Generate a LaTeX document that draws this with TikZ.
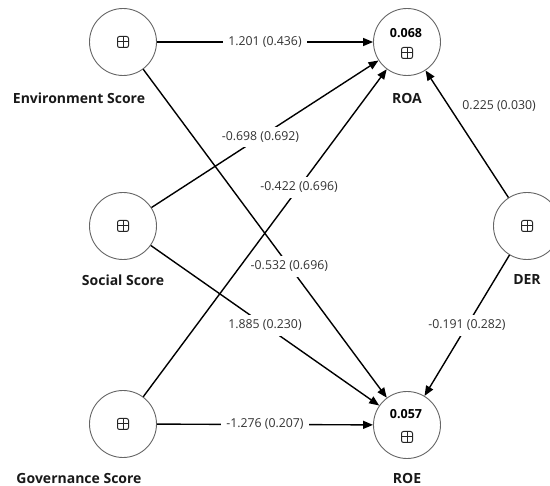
\documentclass[tikz,border=0pt]{standalone}
\usepackage{fontspec}
\setmainfont{Open Sans}
\usetikzlibrary{arrows.meta}
\begin{document}
\begin{tikzpicture}[x=1pt,y=-1pt,
  latent/.style={circle,draw=black!60,line width=0.9pt,minimum size=67pt,inner sep=0pt},
  conn/.style={line width=1.4pt,-{Triangle[length=10pt,width=8pt]}},
  elabel/.style={fill=white,font=\fontsize{12.3}{14}\selectfont,text=black!80,inner sep=5pt},
  vlabel/.style={font=\fontsize{14}{16}\selectfont\bfseries,text=black!90},
  rsq/.style={font=\fontsize{12.5}{14}\selectfont\bfseries},
  plusbox/.pic={\draw[line width=1pt,rounded corners=2pt,black!85] (-5.5,-5.5) rectangle (5.5,5.5);
                \draw[line width=1pt,black!85] (-5.5,0) -- (5.5,0) (0,-5.5) -- (0,5.5);}
]
\useasboundingbox (0,0) rectangle (550,486);
% constructs
\node[latent] (env) at (123,42) {};
\node[latent] (soc) at (123,226) {};
\node[latent] (gov) at (123,424) {};
\node[latent] (roa) at (407,42) {};
\node[latent] (roe) at (407,425) {};
\node[latent] (der) at (527,226) {};
% icons
\pic at (env.center) {plusbox};
\pic at (soc.center) {plusbox};
\pic at (gov.center) {plusbox};
\pic at (der.center) {plusbox};
\pic at (407,53) {plusbox};
\pic at (407,437) {plusbox};
\node[rsq] (roar2) at (406,33) {0.068};
\node[rsq] (roer2) at (406,414) {0.057};
% names
\node[vlabel] (envl) at (79,98) {Environment Score};
\node[vlabel] (socl) at (123,280) {Social Score};
\node[vlabel] (govl) at (79,479) {Governance Score};
\node[vlabel] (roal) at (407,98) {ROA};
\node[vlabel] (derl) at (527,280) {DER};
\node[vlabel] (roel) at (407,478) {ROE};
% paths
\draw[conn] (env) -- node[elabel,pos=0.5] {1.201 (0.436)} (roa);
\draw[conn] (env) -- node[elabel,pos=0.6] {-0.532 (0.696)} (roe);
\draw[conn] (soc) -- node[elabel,pos=0.48] {-0.698 (0.692)} (roa);
\draw[conn] (soc) -- node[elabel,pos=0.5] {1.885 (0.230)} (roe);
\draw[conn] (gov) -- node[elabel,pos=0.64] {-0.422 (0.696)} (roa);
\draw[conn] (gov) -- node[elabel,pos=0.5] {-1.276 (0.207)} (roe);
\draw[conn] (der) -- node[elabel,pos=0.72,anchor=west,xshift=8pt] {0.225 (0.030)} (roa);
\draw[conn] (der) -- node[elabel,pos=0.5] {-0.191 (0.282)} (roe);
\end{tikzpicture}
\end{document}
